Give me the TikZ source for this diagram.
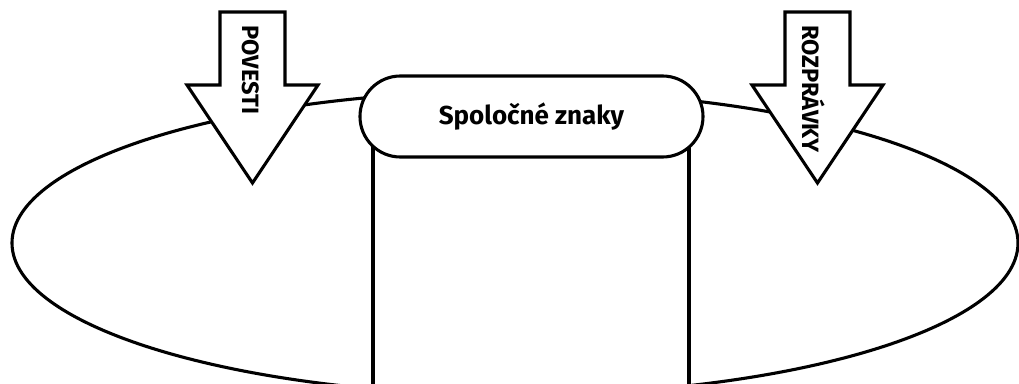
\documentclass[tikz,border=0pt]{standalone}
\usepackage{fontspec}
\setmainfont{Fira Sans}
\usepackage{tikz}
\usetikzlibrary{positioning,shapes.geometric}
\pgfdeclarelayer{back}
\pgfdeclarelayer{front}
\pgfsetlayers{back,main,front}
\tikzstyle{outline}=[draw=black, line width=2.2pt, fill=white]
\tikzstyle{setOval}=[ellipse, draw=black, line width=2.2pt, inner sep=0pt]
\tikzstyle{bigArrow}=[outline, line join=miter]
\tikzstyle{arrowText}=[rotate=-90, inner sep=0pt, font=\bfseries\fontsize{16.8}{19}\selectfont]
\tikzstyle{commonPill}=[outline, rectangle, rounded corners=1.01cm, text centered, font=\bfseries\fontsize{18.5}{22}\selectfont]

\begin{document}
\begin{tikzpicture}
        \useasboundingbox (-12.875,-3.5) rectangle (12.6,6.075);
        \begin{pgfonlayer}{back}
            \node [style=setOval, minimum width=25.15cm, minimum height=7.6cm] (set) at (0, 0) {};
        \end{pgfonlayer}

        % common part
        \node [style=outline, minimum width=7.9cm, minimum height=7.4cm, anchor=north] (box) at (0.4, 3.16) {};
        \node [style=commonPill, minimum width=8.575cm, minimum height=2.025cm] (common) at (0.4125, 3.1625) {Spoločné znaky};

        \begin{pgfonlayer}{front}
            %Left
            \coordinate (povTip) at (-6.5625, 1.5);
            \draw [style=bigArrow] (povTip) -- ++(-1.6375,2.45) -- ++(0.825,0) -- ++(0,1.825) -- ++(1.625,0) -- ++(0,-1.825) -- ++(0.825,0) -- cycle;
            \node [style=arrowText, anchor=base west] (povesti) at (-6.8, 5.45) {POVESTI};

            %Right
            \coordinate (rozTip) at (7.5625, 1.5);
            \draw [style=bigArrow] (rozTip) -- ++(-1.6375,2.45) -- ++(0.825,0) -- ++(0,1.825) -- ++(1.625,0) -- ++(0,-1.825) -- ++(0.825,0) -- cycle;
            \node [style=arrowText, anchor=base west] (rozpravky) at (7.2, 5.45) {ROZPRÁVKY};
        \end{pgfonlayer}
    \end{tikzpicture}
\end{document}
